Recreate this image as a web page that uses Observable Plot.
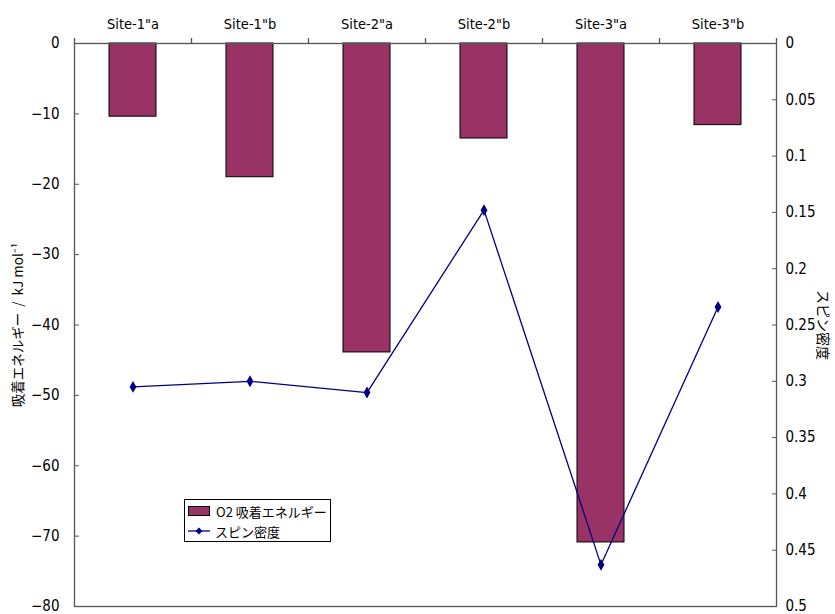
<!DOCTYPE html>
<html>
<head>
<meta charset="utf-8">
<script src="https://cdn.jsdelivr.net/npm/d3@7"></script>
<script src="https://cdn.jsdelivr.net/npm/@observablehq/plot@0.6"></script>
<style>
  html, body { margin: 0; padding: 0; background: #fff; }
  #wrap { position: relative; width: 835px; height: 614px; }
  .legend { position: absolute; left: 184px; top: 499px; width: 147px; height: 43px; border: 1px solid #000; background: #fff;
    font-family: "Noto Sans CJK JP", sans-serif; font-size: 13px; box-sizing: border-box; }
  .legend .row { position: absolute; left: 3px; height: 20px; display: flex; align-items: center; }
  .legend .sw { width: 20px; height: 8px; background: #993366; border: 1px solid #000; margin-right: 6px; }
  .legend svg { margin-right: 5px; }
</style>
</head>
<body>
<div id="wrap"></div>
<script>
const categories = ['Site-1"a', 'Site-1"b', 'Site-2"a', 'Site-2"b', 'Site-3"a', 'Site-3"b'];
const energy = [-10.4, -19.0, -43.9, -13.5, -70.9, -11.6];
const spin = [0.305, 0.300, 0.310, 0.148, 0.463, 0.234];
const leftTicks = [0, -10, -20, -30, -40, -50, -60, -70, -80];
const rightTicks = [0, 0.05, 0.1, 0.15, 0.2, 0.25, 0.3, 0.35, 0.4, 0.45, 0.5];
const seriesNames = ["O2 吸着エネルギー", "スピン密度"];
const leftTitle = "吸着エネルギー  /  kJ mol⁻¹";
const rightTitle = "スピン密度";

const W = 835, H = 614, ML = 74, MR = 59, MT = 43, MB = 8;
const STEP = (W - ML - MR) / categories.length;
const K = 160; // maps spin [0,0.5] onto energy [0,-80]
const AX = "#555";
const FONT = '"DejaVu Sans Condensed", "Liberation Sans Narrow", "Liberation Sans", sans-serif';
const JP = '"Noto Sans CJK JP", sans-serif';

const data = categories.map((c, i) => ({site: c, energy: energy[i], spin: spin[i]}));

const chart = Plot.plot({
  width: W, height: H,
  marginLeft: ML, marginRight: MR, marginTop: MT, marginBottom: MB,
  style: {fontFamily: FONT, fontSize: "14px", color: "#000", background: "#fff"},
  x: {domain: categories, paddingInner: 0.6, paddingOuter: 0.3, axis: null},
  y: {domain: [-80, 0], axis: null},
  marks: [
    Plot.barY(data, {x: "site", y: "energy", fill: "#993366", stroke: "#000", strokeWidth: 1}),
    Plot.frame({stroke: AX, strokeWidth: 1.3}),
    Plot.axisX({anchor: "top", tickSize: 0, tickPadding: 15, fontSize: 14.5, label: null}),
    Plot.ruleX(categories, {x: d => d, dx: -STEP / 2, y1: 0, y2: 0, insetBottom: 5, stroke: AX, strokeWidth: 1.3}),
    Plot.ruleX(categories.slice(-1), {x: d => d, dx: STEP / 2, y1: 0, y2: 0, insetBottom: 5, stroke: AX, strokeWidth: 1.3}),
    Plot.axisY(leftTicks, {anchor: "left", tickSize: -5, tickPadding: 20, stroke: AX, label: null, fontSize: 15}),
    Plot.axisY(rightTicks.map(t => -t * K), {anchor: "right", tickSize: -5, tickPadding: 14, stroke: AX, label: null, fontSize: 15,
      tickFormat: v => String(Math.round((-v / K) * 100) / 100 + 0)}),
    Plot.line(data, {x: "site", y: d => -d.spin * K, stroke: "#000080", strokeWidth: 1.3}),
    Plot.dot(data, {x: "site", y: d => -d.spin * K, symbol: "diamond", r: 3.6, fill: "#000080", stroke: "none"}),
    Plot.text([leftTitle], {frameAnchor: "left", textAnchor: "middle", rotate: -90, dx: -56, fontFamily: JP, fontSize: 13.5}),
    Plot.text([rightTitle], {frameAnchor: "right", textAnchor: "middle", rotate: 90, dx: 46, fontFamily: JP, fontSize: 14})
  ]
});

const wrap = document.getElementById("wrap");
wrap.appendChild(chart);

const legend = document.createElement("div");
legend.className = "legend";
legend.innerHTML = `
  <div class="row" style="top:1px"><span class="sw"></span><span>${seriesNames[0]}</span></div>
  <div class="row" style="top:21px"><svg width="22" height="10"><line x1="0" y1="5" x2="22" y2="5" stroke="#000080" stroke-width="1.3"/><path d="M11,1.5L14.5,5L11,8.5L7.5,5Z" fill="#000080"/></svg><span>${seriesNames[1]}</span></div>`;
wrap.appendChild(legend);
</script>
</body>
</html>
